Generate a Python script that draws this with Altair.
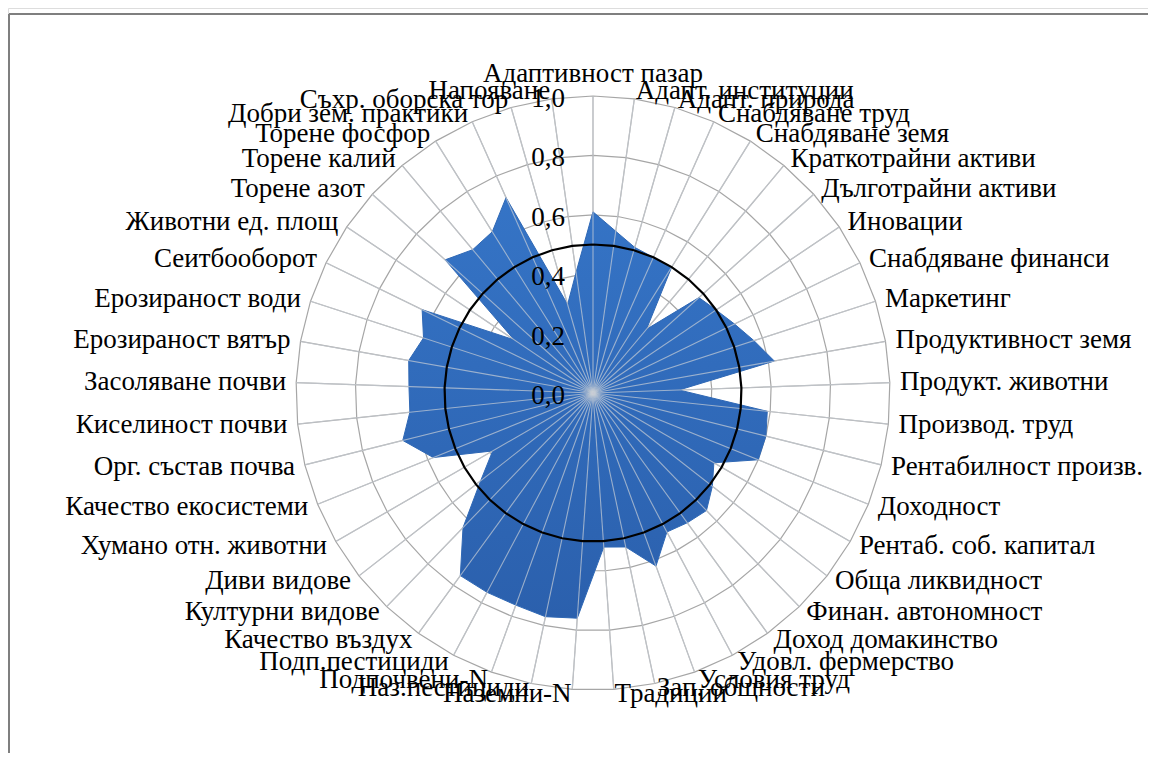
import math
import altair as alt
import pandas as pd

categories = [
    "Адаптивност пазар", "Адапт. институции", "Адапт. природа", "Снабдяване труд",
    "Снабдяване земя", "Краткотрайни активи", "Дълготрайни активи", "Иновации",
    "Снабдяване финанси", "Маркетинг", "Продуктивност земя", "Продукт. животни",
    "Производ. труд", "Рентабилност произв.", "Доходност", "Рентаб. соб. капитал",
    "Обща ликвидност", "Финан. автономност", "Доход  домакинство", "Удовл. фермерство",
    "Условия труд", "Зап. общности", "Традиции", "Наземни-N", "Наз.пестициди",
    "Подпочвени-N", "Подп.пестициди", "Качество въздух", "Културни видове",
    "Диви видове", "Хумано отн. животни", "Качество екосистеми", "Орг. състав почва",
    "Киселиност почви", "Засоляване почви", "Ерозираност вятър", "Ерозираност води",
    "Сеитбооборот", "Животни ед. площ", "Торене азот", "Торене калий",
    "Торене фосфор", "Добри зем. практики", "Съхр. оборска тор", "Напояване",
]
values = [
    0.61, 0.55, 0.51, 0.50, 0.50, 0.28, 0.48, 0.50, 0.53, 0.57,
    0.62, 0.29, 0.59, 0.60, 0.60, 0.47, 0.51, 0.55, 0.54, 0.53,
    0.62, 0.53, 0.52, 0.76, 0.77, 0.76, 0.76, 0.76, 0.63, 0.48,
    0.39, 0.58, 0.66, 0.62, 0.62, 0.63, 0.60, 0.64, 0.32, 0.67,
    0.63, 0.64, 0.72, 0.31, 0.41,
]
threshold = 0.5
ring_levels = [0.2, 0.4, 0.6, 0.8, 1.0]
tick_values = [0.0, 0.2, 0.4, 0.6, 0.8, 1.0]
tick_labels = ["0,0", "0,2", "0,4", "0,6", "0,8", "1,0"]

N = len(categories)
FONT = "Liberation Serif"
FS = 27

idx_closed = list(range(N)) + [N]
series_df = pd.DataFrame({
    "idx": idx_closed,
    "value": values + [values[0]],
    "thr": [threshold] * (N + 1),
})
cat_df = pd.DataFrame({"idx": list(range(N)), "category": categories})
rings_df = pd.DataFrame(
    [{"level": lv, "idx": i} for lv in ring_levels for i in idx_closed]
)
ticks_df = pd.DataFrame({"v": tick_values, "label": tick_labels})

ang = f"datum.idx * 2 * PI / {N}"

xs = alt.Scale(domain=[-1.9697, 1.8687], nice=False, zero=False)
ys = alt.Scale(domain=[-1.2121, 1.2963], nice=False, zero=False)

def X(f):
    return alt.X(f, type="quantitative", scale=xs, axis=None)

def Y(f):
    return alt.Y(f, type="quantitative", scale=ys, axis=None)

rings = alt.Chart(rings_df).transform_calculate(
    a=ang
).transform_calculate(
    x="datum.level * sin(datum.a)", y="datum.level * cos(datum.a)"
).mark_line(stroke="#a6a6a6", strokeWidth=1.2).encode(
    x=X("x"), y=Y("y"), detail="level:N", order="idx:Q"
)

spokes_base = alt.Chart(cat_df).transform_calculate(
    a=ang
).transform_calculate(
    x="sin(datum.a)", y="cos(datum.a)", x0="0", y0="0"
)
spokes_under = spokes_base.mark_rule(stroke="#a6a6a6", strokeWidth=1.2).encode(
    x=X("x0"), y=Y("y0"), x2="x:Q", y2="y:Q"
)
spokes_over = spokes_base.mark_rule(stroke="#c9ced6", strokeWidth=1.1, opacity=0.7).encode(
    x=X("x0"), y=Y("y0"), x2="x:Q", y2="y:Q"
)

fill_grad = alt.Gradient(
    gradient="linear",
    stops=[alt.GradientStop(color="#3574c6", offset=0),
           alt.GradientStop(color="#2b60ad", offset=1)],
    x1=0, x2=0, y1=0, y2=1,
)

area = alt.Chart(series_df).transform_calculate(
    a=ang
).transform_calculate(
    x="datum.value * sin(datum.a)", y="datum.value * cos(datum.a)"
).mark_line(fill=fill_grad, stroke="#2f68b5", strokeWidth=1, strokeJoin="miter").encode(
    x=X("x"), y=Y("y"), order="idx:Q"
)

thr_line = alt.Chart(series_df).transform_calculate(
    a=ang
).transform_calculate(
    x="datum.thr * sin(datum.a)", y="datum.thr * cos(datum.a)"
).mark_line(stroke="#000000", strokeWidth=2.2).encode(
    x=X("x"), y=Y("y"), order="idx:Q"
)

lab_base = alt.Chart(cat_df).transform_calculate(
    a=ang
).transform_calculate(
    s="sin(datum.a)", c="cos(datum.a)"
).transform_calculate(
    lx="1.034 * datum.s",
    ly="datum.c < -0.95 ? 1.015 * datum.c : 1.027 * datum.c",
)
lab_right = lab_base.transform_filter("datum.s > 0.01").mark_text(
    align="left", baseline="middle", font=FONT, fontSize=FS, color="#000000"
).encode(x=X("lx"), y=Y("ly"), text="category:N")
lab_left = lab_base.transform_filter("datum.s < -0.01").mark_text(
    align="right", baseline="middle", font=FONT, fontSize=FS, color="#000000"
).encode(x=X("lx"), y=Y("ly"), text="category:N")
lab_top = lab_base.transform_filter("abs(datum.s) <= 0.01").mark_text(
    align="center", baseline="middle", font=FONT, fontSize=FS, color="#000000", dy=-14
).encode(x=X("lx"), y=Y("ly"), text="category:N")

ticks = alt.Chart(ticks_df).transform_calculate(x0="0").mark_text(
    align="right", baseline="middle", font=FONT, fontSize=FS, color="#000000", dx=-28, dy=3
).encode(x=X("x0"), y=Y("v"), text="label:N")

frame_top = alt.Chart(ticks_df).mark_rule(stroke="#7f7f7f", strokeWidth=2).encode(
    x=alt.value(1), x2=alt.value(1160), y=alt.value(6)
)
frame_left = alt.Chart(ticks_df).mark_rule(stroke="#7f7f7f", strokeWidth=2).encode(
    x=alt.value(1), y=alt.value(6), y2=alt.value(760)
)

chart = alt.layer(
    frame_top, frame_left, rings, spokes_under, area, spokes_over, thr_line,
    ticks, lab_right, lab_left, lab_top,
).properties(
    width=1140, height=745,
    autosize=alt.AutoSizeParams(type="none"),
    padding=0,
).configure_view(stroke=None).configure(background="#ffffff")

chart.save("out.html", embed_options={"renderer": "svg", "actions": False})
